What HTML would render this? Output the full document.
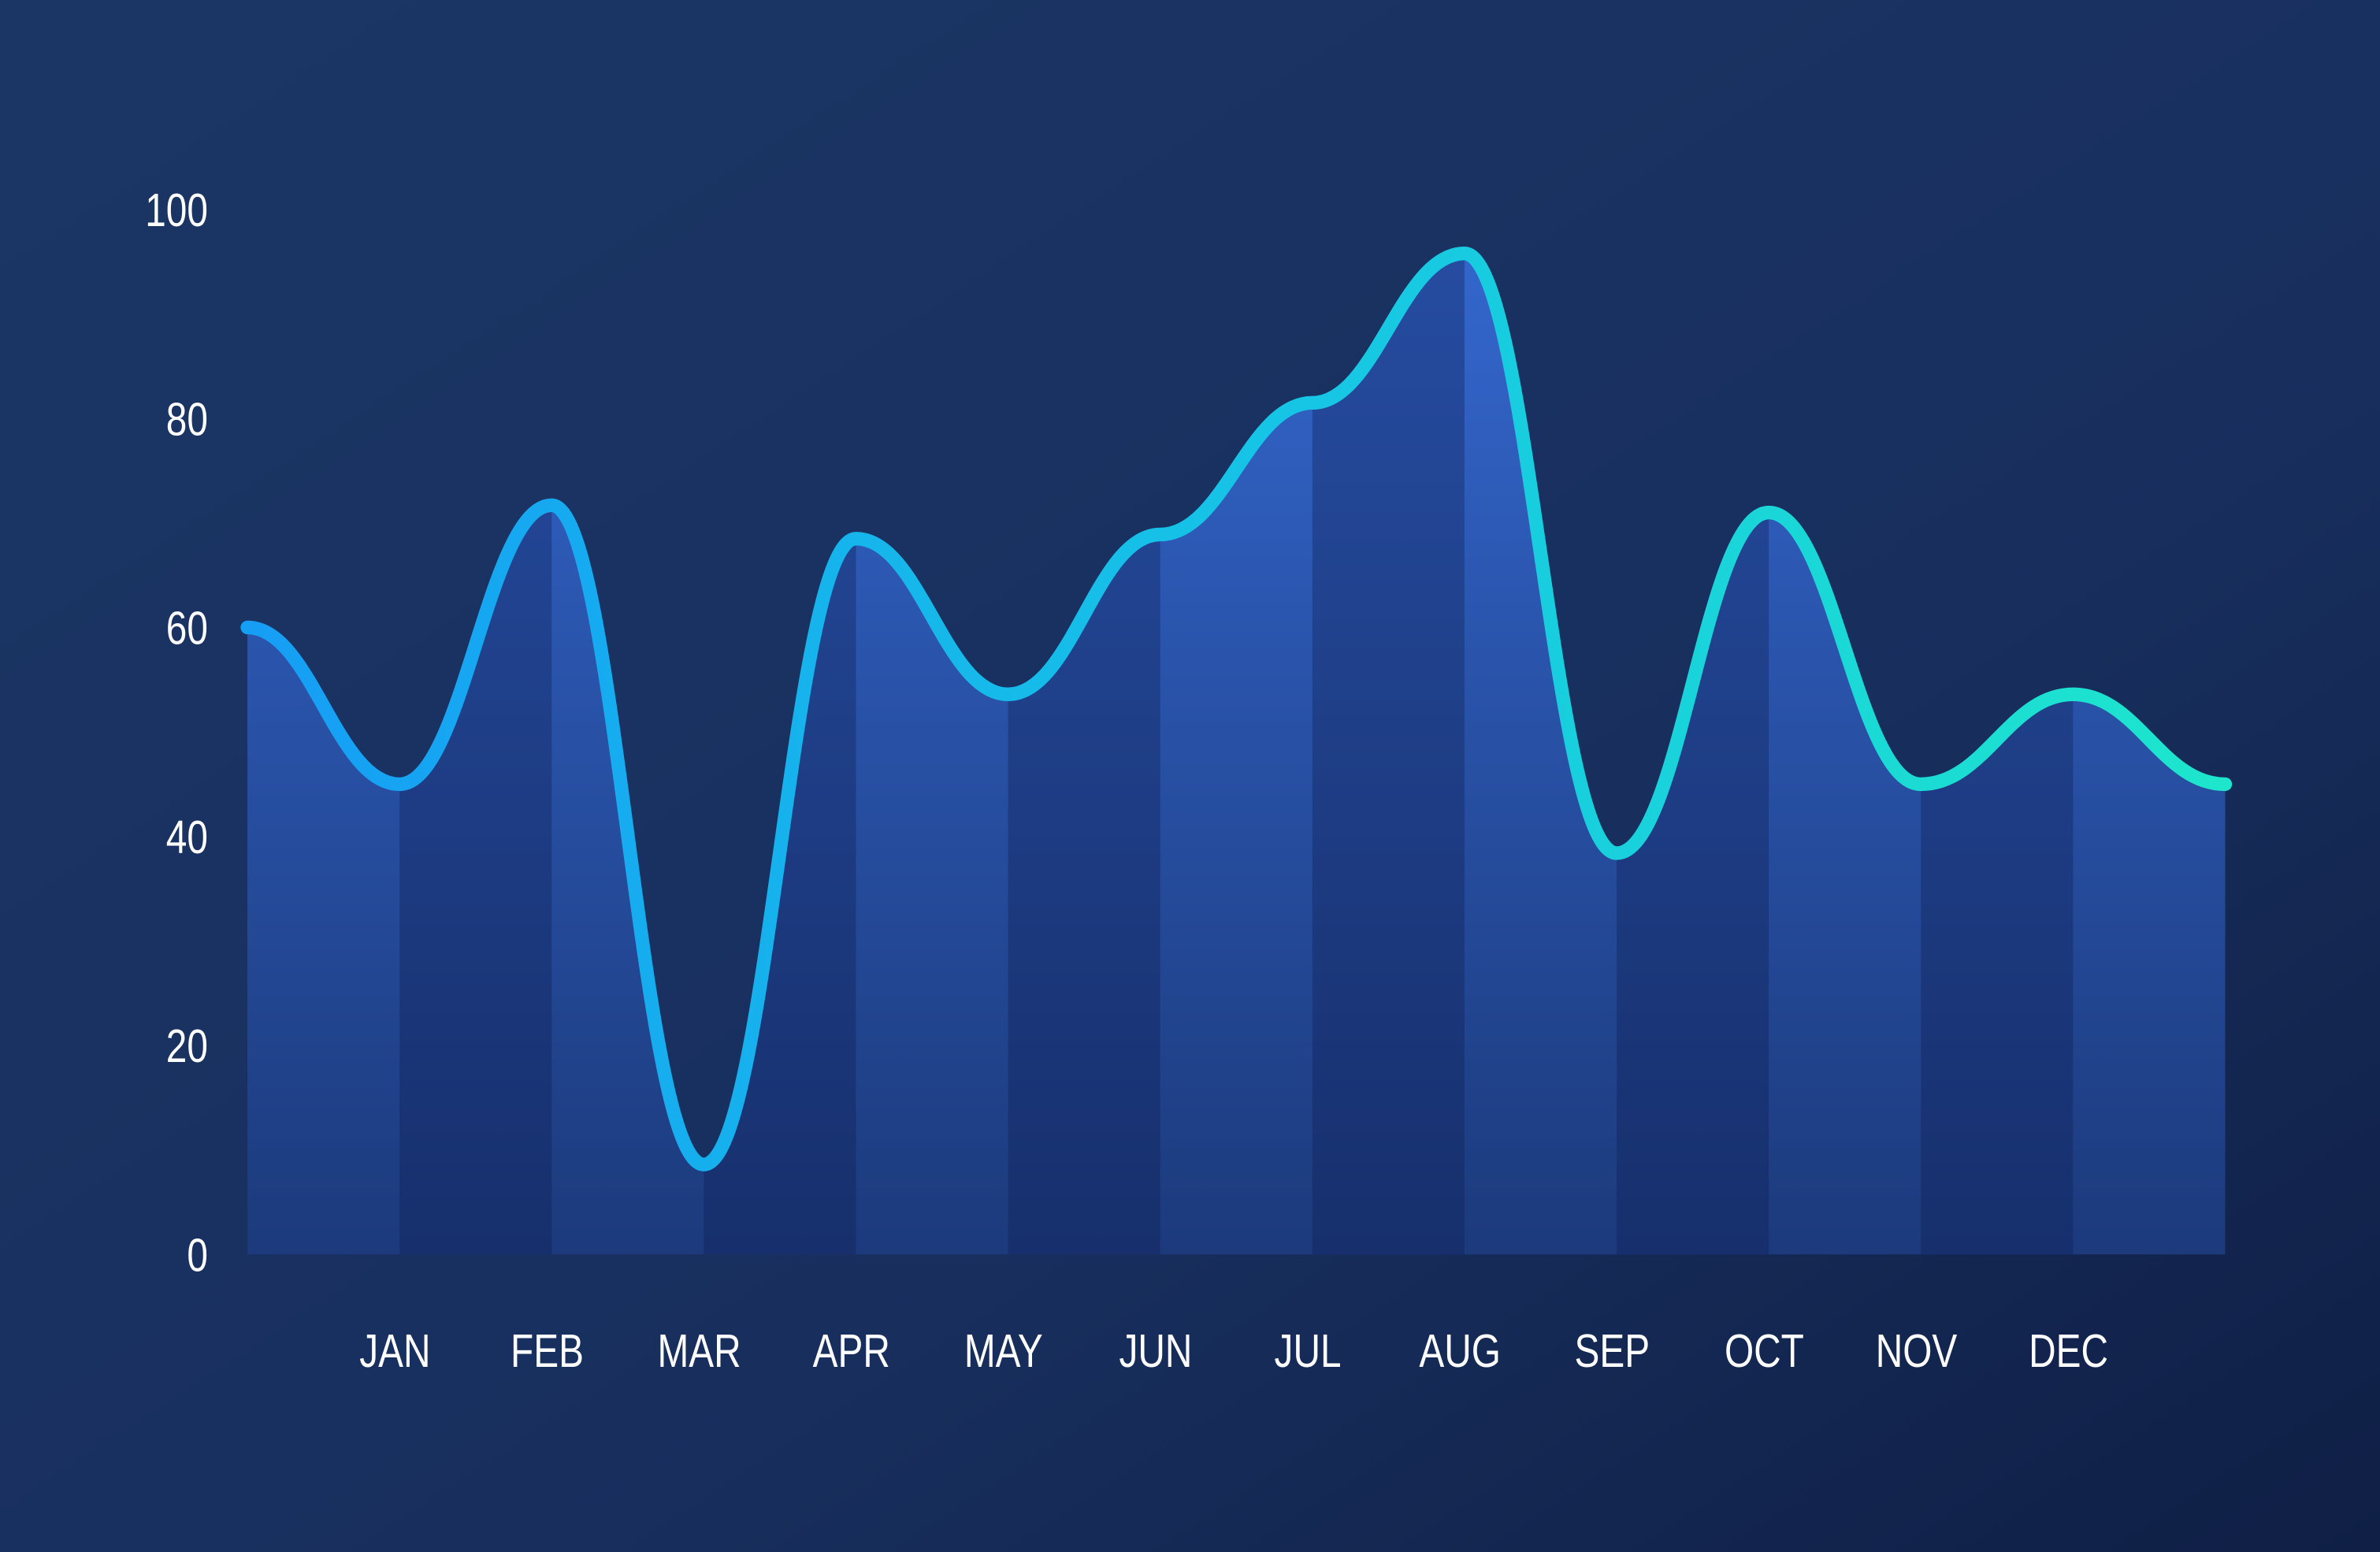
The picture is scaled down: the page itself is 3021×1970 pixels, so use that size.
<!DOCTYPE html>
<html><head><meta charset="utf-8"><style>
html,body{margin:0;padding:0;width:3021px;height:1970px;overflow:hidden;background:#172d5a}
svg{display:block}
text{font-family:"Liberation Sans Narrow","Liberation Sans",sans-serif;fill:#ffffff}
</style></head><body>
<svg id="chart" width="3021" height="1970" viewBox="0 0 1568 1022" preserveAspectRatio="none" xmlns="http://www.w3.org/2000/svg">
<defs>
<linearGradient id="bg" x1="0" y1="0" x2="1" y2="1">
<stop offset="0" stop-color="#1b3665"/><stop offset="0.6" stop-color="#182f5e"/><stop offset="1" stop-color="#0f1f45"/>
</linearGradient>
<linearGradient id="fillg" x1="0" y1="0" x2="0" y2="1">
<stop offset="0" stop-color="#3366cc"/><stop offset="1" stop-color="#1c3a7c"/>
</linearGradient>
<linearGradient id="lineg" x1="0" y1="0" x2="1" y2="0">
<stop offset="0" stop-color="#169ef5"/><stop offset="0.5" stop-color="#16c3e6"/><stop offset="1" stop-color="#1de6cc"/>
</linearGradient>
<clipPath id="areaClip"><path id="clipPath"/></clipPath>
</defs>
<rect width="1568" height="1022" fill="url(#bg)"/>
<g id="yaxis"></g>
<g id="xaxis"></g>
<path id="area" fill="url(#fillg)"/>
<g id="bands" clip-path="url(#areaClip)"></g>
<path id="line" fill="none" stroke="url(#lineg)" stroke-width="9" stroke-linecap="round"/>
</svg>
<script>
const values = [60, 45, 71.7, 8.6, 68.5, 53.6, 68.9, 81.5, 95.8, 38.4, 71, 45, 53.6, 45];
const months = ["JAN","FEB","MAR","APR","MAY","JUN","JUL","AUG","SEP","OCT","NOV","DEC"];
const yTicks = [0, 20, 40, 60, 80, 100];

const NS = "http://www.w3.org/2000/svg";
const X0 = 163, X1 = 1466, Y0 = 826, Y100 = 138;
const xs = i => X0 + (X1 - X0) * i / (values.length - 1);
const ys = v => Y0 - (Y0 - Y100) * v / 100;

let d = `M${xs(0)},${ys(values[0])}`;
for (let i = 1; i < values.length; i++) {
  const xa = xs(i - 1), xb = xs(i), dx = (xb - xa) * 0.42;
  d += ` C${xa + dx},${ys(values[i - 1])} ${xb - dx},${ys(values[i])} ${xb},${ys(values[i])}`;
}
const area = d + ` L${xs(values.length - 1)},${Y0} L${xs(0)},${Y0} Z`;
document.getElementById('line').setAttribute('d', d);
document.getElementById('area').setAttribute('d', area);
document.getElementById('clipPath').setAttribute('d', area);

const bands = document.getElementById('bands');
for (let i = 0; i < values.length - 1; i++) {
  if (i % 2 === 1) {
    const r = document.createElementNS(NS, 'rect');
    
    
    r.setAttribute('x', xs(i)); r.setAttribute('y', 0);
    r.setAttribute('width', xs(i + 1) - xs(i)); r.setAttribute('height', Y0);
    r.setAttribute('fill', 'rgba(15,30,80,0.35)');
    bands.appendChild(r);
  }
}

const ya = document.getElementById('yaxis');
yTicks.forEach(t => {
  const tx = document.createElementNS(NS, 'text');
  
  
  tx.setAttribute('transform', `translate(137,${ys(t) + 11}) scale(0.8,1)`);
  tx.setAttribute('text-anchor', 'end'); tx.setAttribute('font-size', '31');
  tx.textContent = t;
  ya.appendChild(tx);
});
const xa = document.getElementById('xaxis');
months.forEach((m, i) => {
  const tx = document.createElementNS(NS, 'text');
  
  
  tx.setAttribute('transform', `translate(${xs(i + 1) - 3},900) scale(0.8,1)`);
  tx.setAttribute('text-anchor', 'middle'); tx.setAttribute('font-size', '31');
  tx.textContent = m;
  xa.appendChild(tx);
});
</script>
</body></html>
